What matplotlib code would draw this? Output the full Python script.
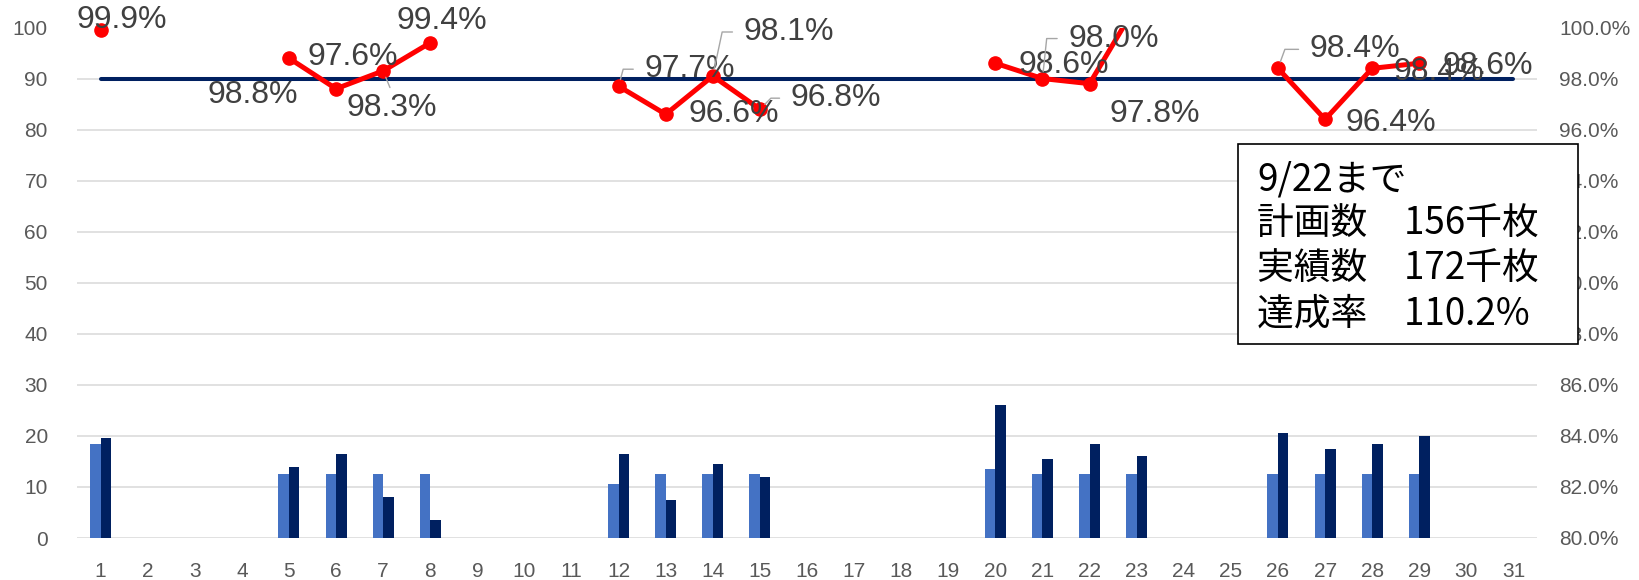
import numpy as np
import matplotlib.pyplot as plt
from matplotlib.patches import Rectangle

nan = np.nan

days = np.arange(1, 32)
# plan / actual (thousand sheets) per day
plan = [18.4, nan, nan, nan, 12.5, 12.5, 12.5, 12.5, nan, nan, nan,
        10.6, 12.5, 12.5, 12.5, nan, nan, nan, nan, 13.6, 12.5, 12.5,
        12.5, nan, nan, 12.5, 12.5, 12.5, 12.5, nan, nan]
actual = [19.5, nan, nan, nan, 14.0, 16.5, 8.0, 3.5, nan, nan, nan,
          16.5, 7.5, 14.4, 12.0, nan, nan, nan, nan, 26.0, 15.4, 18.5,
          16.0, nan, nan, 20.5, 17.5, 18.5, 19.9, nan, nan]
# rate (%) on right axis
rate = [99.9, nan, nan, nan, 98.8, 97.6, 98.3, 99.4, nan, nan, nan,
        97.7, 96.6, 98.1, 96.8, nan, nan, nan, nan, 98.6, 98.0, 97.8,
        100.9, nan, nan, 98.4, 96.4, 98.4, 98.6, nan, nan]
target = [98.0] * 31

box_lines = ["9/22まで", "計画数　156千枚", "実績数　172千枚", "達成率　110.2%"]

# label placement (pixels from point, y down) and leader-line angle
label_pos = {1: (21, -10, None), 5: (-36, 37, None), 6: (17, -32, None),
             7: (9, 37, 'top'), 8: (12, -22, None), 12: (71, -17, 75),
             13: (68, 0, None), 14: (76, -44, 78), 15: (76, -11, 45),
             20: (68, 2, None), 21: (71, -40, 84), 22: (65, 30, None),
             26: (77, -19, 70), 27: (66, 4, None), 28: (67, 4, None),
             29: (68, 3, None)}

W, H = 1639, 580
fig = plt.figure(figsize=(W / 100, H / 100), dpi=100)
ax = fig.add_axes([77 / W, 1 - 538 / H, 1460 / W, (538 - 27.5) / H])

tick_font = dict(family=['Liberation Sans', 'DejaVu Sans'], size=15)

plan = np.array(plan)
actual = np.array(actual)
w = 0.223
m = ~np.isnan(plan)
ax.bar(days[m] - w / 2, plan[m], w, color='#4472C4', zorder=2)
m = ~np.isnan(actual)
ax.bar(days[m] + w / 2, actual[m], w, color='#002060', zorder=2)

ax.set_xlim(0.5, 31.5)
ax.set_ylim(0, 100)
ax.set_yticks(range(0, 101, 10))
ax.set_xticks(days)
ax.grid(axis='y', color='#D9D9D9', lw=1.1)
ax.set_axisbelow(True)
for s in ax.spines.values():
    s.set_visible(False)
ax.tick_params(length=0, colors='#595959')
ax.tick_params(axis='y', pad=21)
ax.tick_params(axis='x', pad=17)
for t in ax.get_xticklabels() + ax.get_yticklabels():
    t.set_fontproperties(tick_font)
    t.set_color('#595959')

ax2 = ax.twinx()
ax2.set_ylim(80, 100)
ax2.set_yticks(np.arange(80, 100.1, 2))
ax2.set_yticklabels([f'{v:.1f}%' for v in np.arange(80, 100.1, 2)])
for s in ax2.spines.values():
    s.set_visible(False)
ax2.tick_params(length=0, pad=16)
for t in ax2.get_yticklabels():
    t.set_fontproperties(tick_font)
    t.set_color('#595959')

rate_arr = np.array(rate)
ax2.plot(days, target, color='#002060', lw=2.9, solid_capstyle='round', zorder=3)
ax2.plot(days, rate_arr, color='#FF0000', lw=3.6, zorder=4)
# markers are not clipped at the top edge (point above 100% is not shown)
vis = np.where(rate_arr <= 100, rate_arr, nan)
ax2.plot(days, vis, ls='none', color='#FF0000', marker='o', ms=9.5, zorder=4,
         clip_on=False)

for d, (dx, dy, lead) in label_pos.items():
    v = rate[d - 1]
    kw = {}
    if lead == 'top':
        kw['arrowprops'] = dict(arrowstyle='-', color='#A6A6A6', lw=1,
                                relpos=(0.5, 1), shrinkA=2, shrinkB=5)
    elif lead is not None:
        kw['arrowprops'] = dict(arrowstyle='-', color='#A6A6A6', lw=1,
                                relpos=(0, 0.5), shrinkA=6, shrinkB=5,
                                connectionstyle=f'angle,angleA=0,angleB={lead},rad=0')
    ax2.annotate(f'{v:.1f}%', (d, v), xytext=(dx, -dy), textcoords='offset pixels',
                 ha='center', va='center', fontsize=23, color='#404040',
                 family=['Liberation Sans', 'DejaVu Sans'], zorder=5, **kw)

rect = Rectangle((1238 / W, 1 - 344 / H), (1578 - 1238) / W, (344 - 144) / H,
                 transform=fig.transFigure, facecolor='white', edgecolor='black',
                 lw=1.2, zorder=10)
fig.add_artist(rect)
for i, line in enumerate(box_lines):
    fig.text(1257 / W, 1 - (180 + 44.5 * i) / H, line, ha='left', va='center',
             fontsize=26.5, color='black', zorder=11,
             family=['Noto Sans CJK JP', 'DejaVu Sans'])

fig.savefig('out.png', dpi=100)
